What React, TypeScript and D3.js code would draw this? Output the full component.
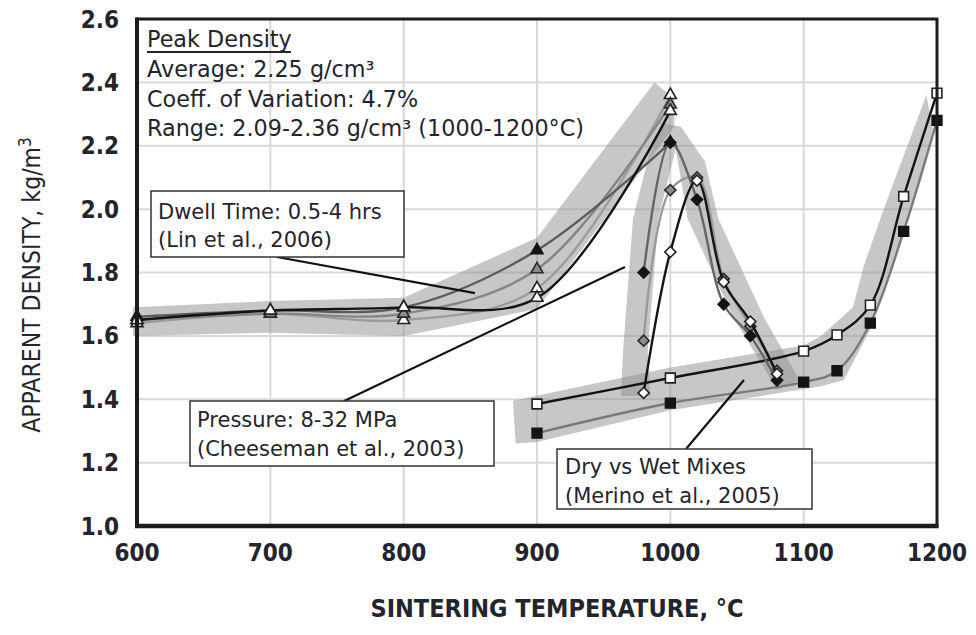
import React from "react";
import * as d3 from "d3";

// Axis ticks
const xTicks = [600, 700, 800, 900, 1000, 1100, 1200];
const yTicks = [1.0, 1.2, 1.4, 1.6, 1.8, 2.0, 2.2, 2.4, 2.6];

// Lin et al. (2006) — dwell time series (triangles)
const linTemps = [600, 700, 800, 900, 1000];
const linSolid = [1.66, 1.68, 1.69, 1.87, 2.21];
const linGrey = [1.65, 1.67, 1.67, 1.81, 2.33];
const linOpenA = [1.64, 1.67, 1.65, 1.75, 2.36];
const linOpenB = [1.65, 1.68, 1.69, 1.72, 2.31];

// Cheeseman et al. (2003) — pressure series (diamonds)
const cheeseTemps = [980, 1000, 1020, 1040, 1060, 1080];
const cheeseSolid = [1.8, 2.21, 2.03, 1.7, 1.6, 1.46];
const cheeseGrey = [1.585, 2.06, 2.1, 1.78, 1.63, 1.49];
const cheeseOpen = [1.42, 1.865, 2.09, 1.77, 1.645, 1.48];

// Merino et al. (2005) — dry vs wet mixes (squares)
const merinoTemps = [900, 1000, 1100, 1125, 1150, 1175, 1200];
const merinoOpen = [1.385, 1.467, 1.552, 1.603, 1.697, 2.04, 2.366];
const merinoSolid = [1.293, 1.388, 1.454, 1.49, 1.64, 1.93, 2.28];

// Shaded envelopes around each study, as [temperature, density] outlines
const linEnvelope: [number, number][] = [
  [597, 1.6], [597, 1.69], [700, 1.71], [800, 1.72], [900, 1.91], [988, 2.4],
  [1003, 2.35], [1003, 2.26], [900, 1.685], [800, 1.6], [700, 1.61],
];
const cheeseEnvelope: [number, number][] = [
  [963, 1.41], [964.5, 1.55], [972, 1.97], [984, 2.17], [995, 2.27], [1008, 2.26],
  [1026, 2.15], [1036, 1.97], [1070, 1.66], [1097, 1.46], [1080, 1.43], [1070, 1.5],
  [1047, 1.66], [1013, 1.97], [1004, 2.19], [991, 1.97], [983, 1.55], [985, 1.41],
];
const merinoEnvelope: [number, number][] = [
  [884, 1.26], [882, 1.395], [1000, 1.5], [1100, 1.57], [1113, 1.6], [1137, 1.69],
  [1145, 1.82], [1160, 2.0], [1192, 2.36], [1197, 2.25], [1187, 2.09], [1180, 1.99],
  [1150, 1.62], [1130, 1.46], [1112, 1.44], [1000, 1.365], [900, 1.265],
];

// Leader lines from annotation boxes, [temperature, density] start and end
const dwellLeader: [number, number][] = [[705, 1.849], [853.5, 1.735]];
const pressureLeader: [number, number][] = [[755, 1.394], [966, 1.817]];
const mixLeader: [number, number][] = [[1011.75, 1.243], [1055.25, 1.461]];

const W = 976;
const H = 635;
const PLOT = { left: 137, right: 937, top: 19, bottom: 526 };

const TEXT = "#24242c";
const SANS = "'DejaVu Sans', Verdana, sans-serif";
const COND = "'DejaVu Sans Condensed', 'DejaVu Sans', sans-serif";

type MarkerKind = "solid" | "grey" | "open";
type Shape = "triangle" | "diamond" | "square";

const markerFill: Record<MarkerKind, string> = { solid: "#141414", grey: "#8c8c8c", open: "#ffffff" };
const markerStroke: Record<MarkerKind, string> = { solid: "#141414", grey: "#2a2a2a", open: "#222222" };

const shapePath: Record<Shape, string> = {
  triangle: d3.symbol().type(d3.symbolTriangle).size(62)() as string,
  diamond: d3.symbol().type(d3.symbolSquare).size(62)() as string,
  square: d3.symbol().type(d3.symbolSquare).size(95)() as string,
};

export default function App() {
  const x = d3.scaleLinear().domain([600, 1200]).range([PLOT.left, PLOT.right]);
  const y = d3.scaleLinear().domain([1.0, 2.6]).range([PLOT.bottom, PLOT.top]);

  const zip = (ts: number[], vs: number[]) => ts.map((t, i) => [t, vs[i]] as [number, number]);
  const smooth = d3
    .line<[number, number]>()
    .x((d) => x(d[0]))
    .y((d) => y(d[1]))
    .curve(d3.curveCatmullRom.alpha(0.5));
  const outline = d3
    .line<[number, number]>()
    .x((d) => x(d[0]))
    .y((d) => y(d[1]))
    .curve(d3.curveLinearClosed);

  const groups: { temps: number[]; values: number[]; line: string; marker: MarkerKind; shape: Shape }[] = [
    { temps: linTemps, values: linOpenA, line: "#9c9c9c", marker: "open", shape: "triangle" },
    { temps: linTemps, values: linGrey, line: "#858585", marker: "grey", shape: "triangle" },
    { temps: linTemps, values: linSolid, line: "#5c5c5c", marker: "solid", shape: "triangle" },
    { temps: linTemps, values: linOpenB, line: "#141414", marker: "open", shape: "triangle" },
    { temps: merinoTemps, values: merinoSolid, line: "#7a7a7a", marker: "solid", shape: "square" },
    { temps: merinoTemps, values: merinoOpen, line: "#141414", marker: "open", shape: "square" },
    { temps: cheeseTemps, values: cheeseGrey, line: "#9a9a9a", marker: "grey", shape: "diamond" },
    { temps: cheeseTemps, values: cheeseSolid, line: "#666666", marker: "solid", shape: "diamond" },
    { temps: cheeseTemps, values: cheeseOpen, line: "#141414", marker: "open", shape: "diamond" },
  ];

  const leader = (pts: [number, number][], key: string) => (
    <line key={key} x1={x(pts[0][0])} y1={y(pts[0][1])} x2={x(pts[1][0])} y2={y(pts[1][1])}
      stroke="#111" strokeWidth={2.2} />
  );

  return (
    <svg width={W} height={H} viewBox={`0 0 ${W} ${H}`}
      style={{ position: "absolute", left: 0, top: 0, background: "#fff" }}>
      {/* grid */}
      {xTicks.map((t) => (
        <line key={"gx" + t} x1={x(t)} x2={x(t)} y1={PLOT.top} y2={PLOT.bottom} stroke="#d9d9d9" strokeWidth={2} />
      ))}
      {yTicks.map((v) => (
        <line key={"gy" + v} x1={PLOT.left} x2={PLOT.right} y1={y(v)} y2={y(v)} stroke="#d9d9d9" strokeWidth={2} />
      ))}

      {/* envelopes */}
      {[linEnvelope, cheeseEnvelope, merinoEnvelope].map((env, i) => (
        <path key={"env" + i} d={outline(env) as string} fill="#8f8f92" fillOpacity={0.5} stroke="none" />
      ))}

      {/* series */}
      {groups.map((g, gi) => (
        <g key={"s" + gi}>
          <path d={smooth(zip(g.temps, g.values)) as string} fill="none" stroke={g.line} strokeWidth={2.4} />
          {zip(g.temps, g.values).map((p, pi) => (
            <path key={pi} d={shapePath[g.shape]}
              transform={`translate(${x(p[0])},${y(p[1])})${g.shape === "diamond" ? " rotate(45)" : ""}`}
              fill={markerFill[g.marker]} stroke={markerStroke[g.marker]} strokeWidth={1.6} />
          ))}
        </g>
      ))}

      {/* plot frame */}
      <rect x={PLOT.left} y={PLOT.top} width={PLOT.right - PLOT.left} height={PLOT.bottom - PLOT.top}
        fill="none" stroke="#1c1c1c" strokeWidth={3} />
      <line x1={PLOT.left} x2={PLOT.left} y1={PLOT.top - 1.5} y2={PLOT.bottom + 2} stroke="#1c1c1c" strokeWidth={4} />
      <line x1={PLOT.left - 2} x2={PLOT.right + 1.5} y1={PLOT.bottom} y2={PLOT.bottom} stroke="#1c1c1c" strokeWidth={4.5} />

      {/* leaders */}
      {leader(dwellLeader, "ld")}
      {leader(pressureLeader, "lp")}
      {leader(mixLeader, "lm")}

      {/* annotation boxes */}
      <g fontFamily={SANS} fontSize={21} fill={TEXT}>
        <rect x={151} y={191} width={253} height={66} fill="#fff" stroke="#333" strokeWidth={1.5} />
        <text x={158} y={219}>Dwell Time: 0.5-4 hrs</text>
        <text x={158} y={247}>(Lin et al., 2006)</text>

        <rect x={190} y={401} width={304} height={65} fill="#fff" stroke="#333" strokeWidth={1.5} />
        <text x={197} y={427}>Pressure: 8-32 MPa</text>
        <text x={197} y={456}>(Cheeseman et al., 2003)</text>

        <rect x={557} y={449} width={255} height={60} fill="#fff" stroke="#333" strokeWidth={1.5} />
        <text x={565} y={474}>Dry vs Wet Mixes</text>
        <text x={565} y={503}>(Merino et al., 2005)</text>
      </g>

      {/* peak density summary */}
      <g fontFamily={SANS} fontSize={22.3} fill={TEXT}>
        <text x={147} y={47}>Peak Density</text>
        <line x1={147} x2={291} y1={52} y2={52} stroke={TEXT} strokeWidth={2} />
        <text x={147} y={77}>Average: 2.25 g/cm³</text>
        <text x={147} y={107}>Coeff. of Variation: 4.7%</text>
        <text x={147} y={136}>Range: 2.09-2.36 g/cm³ (1000-1200°C)</text>
      </g>

      {/* tick labels */}
      <g fontFamily={COND} fontWeight="bold" fontSize={24} fill={TEXT}>
        {yTicks.map((v) => (
          <text key={"ty" + v} x={119} y={y(v) + 8.5} textAnchor="end">{v.toFixed(1)}</text>
        ))}
        {xTicks.map((t) => (
          <text key={"tx" + t} x={x(t)} y={561} textAnchor="middle">{t}</text>
        ))}
      </g>

      {/* axis titles */}
      <text x={557} y={617} textAnchor="middle" fontFamily={COND} fontWeight="bold" fontSize={25} fill={TEXT}>
        SINTERING TEMPERATURE, °C
      </text>
      <text transform="translate(40,285) rotate(-90)" textAnchor="middle" fontFamily={COND} fontSize={24.5} fill={TEXT}>
        APPARENT DENSITY, kg/m<tspan dy={-9} fontSize={17}>3</tspan>
      </text>
    </svg>
  );
}
